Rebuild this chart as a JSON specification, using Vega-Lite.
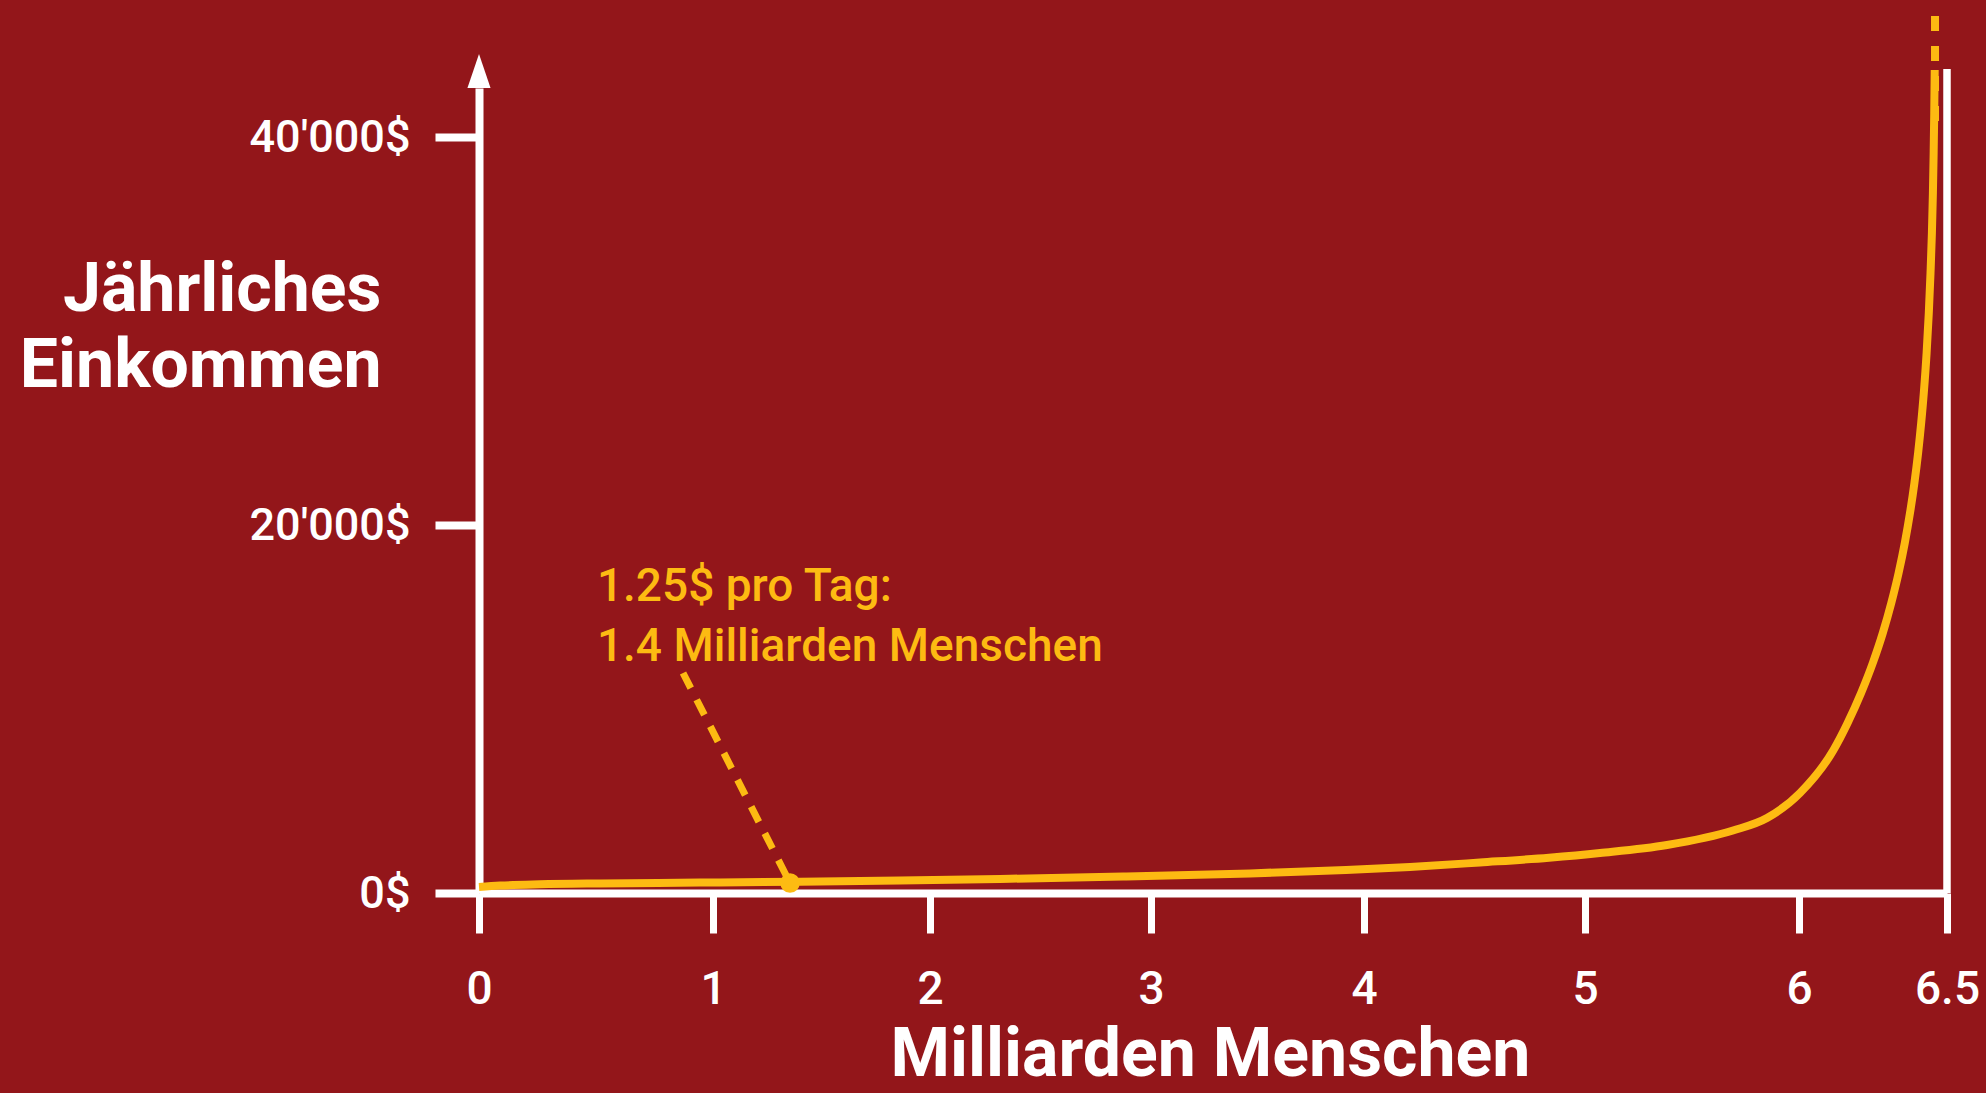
{
  "$schema": "https://vega.github.io/schema/vega-lite/v6.json",
  "autosize": {"type": "none"},
  "width": 1468,
  "height": 805,
  "padding": {"left": 479, "top": 88, "right": 39, "bottom": 200},
  "background": "#93161A",
  "config": {"view": {"stroke": null}},
  "datasets": {
    "curve": [
      {"x": 0, "y": 326}, {"x": 0.0897, "y": 402}, {"x": 0.2607, "y": 473}, {"x": 0.5171, "y": 522},
      {"x": 0.9444, "y": 565}, {"x": 1.4009, "y": 614}, {"x": 1.8618, "y": 685}, {"x": 2.3167, "y": 766},
      {"x": 2.8733, "y": 891}, {"x": 3.4648, "y": 1065}, {"x": 3.9155, "y": 1250}, {"x": 4.2081, "y": 1413},
      {"x": 4.5249, "y": 1658}, {"x": 4.8371, "y": 1918}, {"x": 5.0701, "y": 2174}, {"x": 5.3832, "y": 2609},
      {"x": 5.6916, "y": 3397}, {"x": 5.8505, "y": 4076}, {"x": 6.0034, "y": 5435}, {"x": 6.1166, "y": 7772},
      {"x": 6.1642, "y": 9239}, {"x": 6.2098, "y": 10870}, {"x": 6.2493, "y": 12500}, {"x": 6.2831, "y": 14130},
      {"x": 6.3118, "y": 15761}, {"x": 6.3365, "y": 17391}, {"x": 6.3574, "y": 19022}, {"x": 6.375, "y": 20619},
      {"x": 6.3899, "y": 22165}, {"x": 6.4024, "y": 23711}, {"x": 6.4128, "y": 25258}, {"x": 6.4216, "y": 26804},
      {"x": 6.4311, "y": 28866}, {"x": 6.4385, "y": 30928}, {"x": 6.4443, "y": 32990}, {"x": 6.449, "y": 35052},
      {"x": 6.4524, "y": 37113}, {"x": 6.4549, "y": 39175}, {"x": 6.4569, "y": 41224}, {"x": 6.4585, "y": 43418}
    ],
    "continuation": [{"x": 6.4595, "y": 46173, "y2": 40816}],
    "rightEdge": [{"x": 6.5, "y": 0, "y2": 43469}],
    "arrow": [{"x": 0, "y": 43367}],
    "leader": [{"x": 0.872, "y": 11957, "x2": 1.355, "y2": 543}],
    "marker": [{"x": 1.355, "y": 543}],
    "note": [
      {"x": 0.504, "y": 15870, "text": "1.25$ pro Tag:"},
      {"x": 0.504, "y": 12609, "text": "1.4 Milliarden Menschen"}
    ]
  },
  "encoding": {
    "x": {
      "field": "x",
      "type": "quantitative",
      "scale": {"domain": [0, 1, 2, 3, 4, 5, 6, 6.5], "range": [0, 234, 451, 672, 885, 1106, 1320, 1468], "zero": false, "nice": false},
      "axis": {
        "values": [0, 1, 2, 3, 4, 5, 6, 6.5],
        "labelExpr": "'' + datum.value",
        "title": "Milliarden Menschen",
        "grid": false,
        "domainColor": "#FFFFFF",
        "domainWidth": 8,
        "tickColor": "#FFFFFF",
        "tickWidth": 7,
        "tickSize": 40,
        "labelColor": "#FFFFFF",
        "labelFont": "Roboto",
        "labelFontSize": 46,
        "labelFontWeight": 500,
        "labelPadding": 34,
        "labelFlush": false,
        "labelOverlap": false,
        "labelBound": false,
        "labelLimit": 0,
        "titleColor": "#FFFFFF",
        "titleFont": "Roboto",
        "titleFontWeight": "bold",
        "titleFontSize": 68,
        "titleBaseline": "alphabetic",
        "titleAlign": "center",
        "titleX": 731,
        "titleY": 182
      }
    },
    "y": {
      "field": "y",
      "type": "quantitative",
      "scale": {"domain": [0, 20000, 40000, 42500], "range": [805, 437, 49, 0], "zero": false, "nice": false},
      "axis": {
        "values": [0, 20000, 40000],
        "labelExpr": "datum.value == 0 ? '0$' : (datum.value / 1000) + \"'000$\"",
        "title": ["Jährliches", "Einkommen"],
        "grid": false,
        "domainColor": "#FFFFFF",
        "domainWidth": 8,
        "tickColor": "#FFFFFF",
        "tickWidth": 8,
        "tickSize": 44,
        "labelColor": "#FFFFFF",
        "labelFont": "Roboto",
        "labelFontSize": 45,
        "labelFontWeight": 500,
        "labelPadding": 25,
        "labelBaseline": "middle",
        "labelOverlap": false,
        "labelBound": false,
        "labelFlush": false,
        "labelLimit": 0,
        "titleColor": "#FFFFFF",
        "titleFont": "Roboto",
        "titleFontWeight": "bold",
        "titleFontSize": 68,
        "titleAngle": 0,
        "titleAlign": "right",
        "titleBaseline": "alphabetic",
        "titleLineHeight": 76,
        "titleX": -98,
        "titleY": 222
      }
    }
  },
  "layer": [
    {
      "data": {"name": "rightEdge"},
      "mark": {"type": "rule", "color": "#FFFFFF", "strokeWidth": 7.5},
      "encoding": {"y2": {"field": "y2"}}
    },
    {
      "data": {"name": "curve"},
      "mark": {"type": "line", "color": "#FDBB12", "strokeWidth": 8, "interpolate": "monotone"}
    },
    {
      "data": {"name": "continuation"},
      "mark": {"type": "rule", "color": "#FDBB12", "strokeWidth": 8, "strokeDash": [15, 15], "strokeCap": "butt"},
      "encoding": {"y2": {"field": "y2"}}
    },
    {
      "data": {"name": "leader"},
      "mark": {"type": "rule", "color": "#FDBB12", "strokeWidth": 7, "strokeDash": [17, 13], "strokeCap": "butt"},
      "encoding": {"x2": {"field": "x2"}, "y2": {"field": "y2"}}
    },
    {
      "data": {"name": "marker"},
      "mark": {"type": "point", "filled": true, "color": "#FDBB12", "size": 380, "opacity": 1}
    },
    {
      "data": {"name": "arrow"},
      "mark": {"type": "point", "filled": true, "color": "#FFFFFF", "opacity": 1, "size": 1156, "shape": "M0,-1L0.68,1L-0.68,1Z", "strokeWidth": 0}
    },
    {
      "data": {"name": "note"},
      "mark": {"type": "text", "color": "#FDBB12", "align": "left", "baseline": "alphabetic", "font": "Roboto", "fontSize": 46, "fontWeight": 500},
      "encoding": {"text": {"field": "text"}}
    }
  ]
}
